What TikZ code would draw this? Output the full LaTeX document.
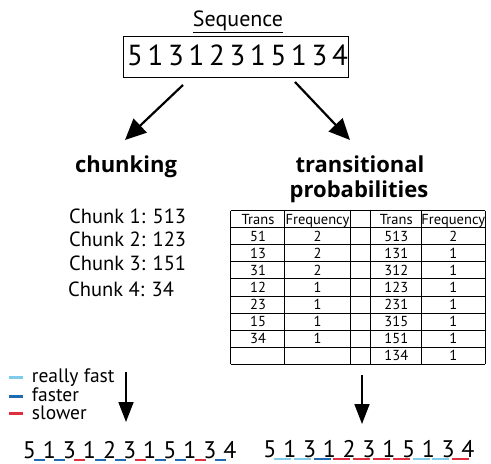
\documentclass[tikz,border=0pt]{standalone}
\usepackage{fontspec}
\setmainfont{PT Sans}
\newfontfamily\headfont{Open Sans}
\usetikzlibrary{arrows.meta}
\definecolor{lightb}{HTML}{7FCBEA}
\definecolor{darkb}{HTML}{1F6AB0}
\definecolor{redc}{HTML}{E0303F}
\tikzset{
  bigarrow/.style={line width=2.2pt,-{Triangle[width=19pt,length=21pt]}},
  downarrow/.style={line width=1.7pt,-{Triangle[width=15pt,length=20pt]}},
  heading/.style={anchor=base,inner sep=0pt,font=\headfont\bfseries\fontsize{22}{25}\selectfont},
  chunktxt/.style={anchor=base west,inner sep=0pt,font=\fontsize{20.5}{24}\selectfont},
  cell/.style={anchor=base,inner sep=0pt,font=\fontsize{14.5}{15}\selectfont},
  legtxt/.style={anchor=base west,inner sep=0pt,font=\fontsize{19.5}{21}\selectfont},
  legdash/.style={line width=3pt},
  bigdigit/.style={anchor=base,inner sep=0pt,font=\fontsize{29}{30}\selectfont},
  botdigit/.style={anchor=base,inner sep=0pt,font=\fontsize{24}{26}\selectfont},
  uline/.style={line width=2pt},
  grid/.style={line width=1pt}
}
\begin{document}
\begin{tikzpicture}[x=1pt,y=-1pt]
\useasboundingbox (0,0) rectangle (491,464);
% title
\node[anchor=base,inner sep=0pt,font=\fontsize{22}{24}\selectfont] (title) at (238,26.7) {\underline{Sequence}};
% sequence box
\node[draw,line width=1pt,minimum width=225pt,minimum height=41.3pt,inner sep=0pt] (seqbox) at (235.8,56.7) {};
\foreach \d [count=\i from 0] in {5,1,3,1,2,3,1,5,1,3,4}
  \node[bigdigit] (s\i) at (135+20.5*\i,65) {\d};
% arrows
\coordinate (la1) at (183,85);
\coordinate (la2) at (125,140);
\coordinate (ra1) at (295,82);
\coordinate (ra2) at (350,140);
\draw[bigarrow] (la1) -- (la2);
\draw[bigarrow] (ra1) -- (ra2);
% headings
\node[heading] (chunking) at (126,172) {chunking};
\node[heading] (tp1) at (360,172) {transitional};
\node[heading] (tp2) at (359,197) {probabilities};
% chunks
\node[chunktxt] (c1) at (69,223) {Chunk 1: 513};
\node[chunktxt] (c2) at (69,246.5) {Chunk 2: 123};
\node[chunktxt] (c3) at (69,270) {Chunk 3: 151};
\node[chunktxt] (c4) at (68,296) {Chunk 4: 34};
% table
\def\rowh{17.07}
\foreach \k in {0,...,9}
  \draw[grid] (230.7,210.7+\rowh*\k) -- (485,210.7+\rowh*\k);
\foreach \cx in {230.7,284.3,350.7,370,421.7,485}
  \draw[grid] (\cx,210.7) -- (\cx,210.7+\rowh*9);
\foreach \a/\b/\c/\d [count=\k from 0] in {Trans/Frequency/Trans/Frequency,51/2/513/2,13/2/131/1,31/2/312/1,12/1/123/1,23/1/231/1,15/1/315/1,34/1/151/1,{}/{}/134/1}{
  \node[cell] (ta\k) at (258,210.7+\rowh*\k+13.3) {\a};
  \node[cell] (tb\k) at (317.5,210.7+\rowh*\k+13.3) {\b};
  \node[cell] (tc\k) at (396.3,210.7+\rowh*\k+13.3) {\c};
  \node[cell] (td\k) at (453.3,210.7+\rowh*\k+13.3) {\d};
}
% legend
\draw[legdash,lightb] (9,377.7) -- (23,377.7);
\node[legtxt] (l1) at (31.7,382.7) {really fast};
\draw[legdash,darkb] (9,396) -- (23,396);
\node[legtxt] (l2) at (31.7,401) {faster};
\draw[legdash,redc] (9,413.5) -- (23,413.5);
\node[legtxt] (l3) at (31.7,419) {slower};
% down arrows
\coordinate (da1) at (126,372);
\coordinate (da2) at (126,422);
\coordinate (db1) at (362,375);
\coordinate (db2) at (362,424);
\draw[downarrow] (da1) -- (da2);
\draw[downarrow] (db1) -- (db2);
% bottom left sequence
\foreach \d [count=\i from 0] in {5,1,3,1,2,3,1,5,1,3,4}
  \node[botdigit] (b\i) at (29.3+20.07*\i,458.5) {\d};
\foreach \c [count=\i from 0] in {darkb,darkb,redc,darkb,darkb,redc,darkb,darkb,redc,darkb}
  \draw[uline,\c] (29.3+20.07*\i+5,460) -- (29.3+20.07*\i+16,460);
% bottom right sequence
\foreach \d [count=\i from 0] in {5,1,3,1,2,3,1,5,1,3,4}
  \node[botdigit] (r\i) at (270+19.8*\i,457.5) {\d};
\foreach \c [count=\i from 0] in {lightb,lightb,darkb,redc,redc,redc,redc,lightb,lightb,redc}
  \draw[uline,\c] (270+19.8*\i+4,459.3) -- (270+19.8*\i+21,459.3);
\end{tikzpicture}
\end{document}
